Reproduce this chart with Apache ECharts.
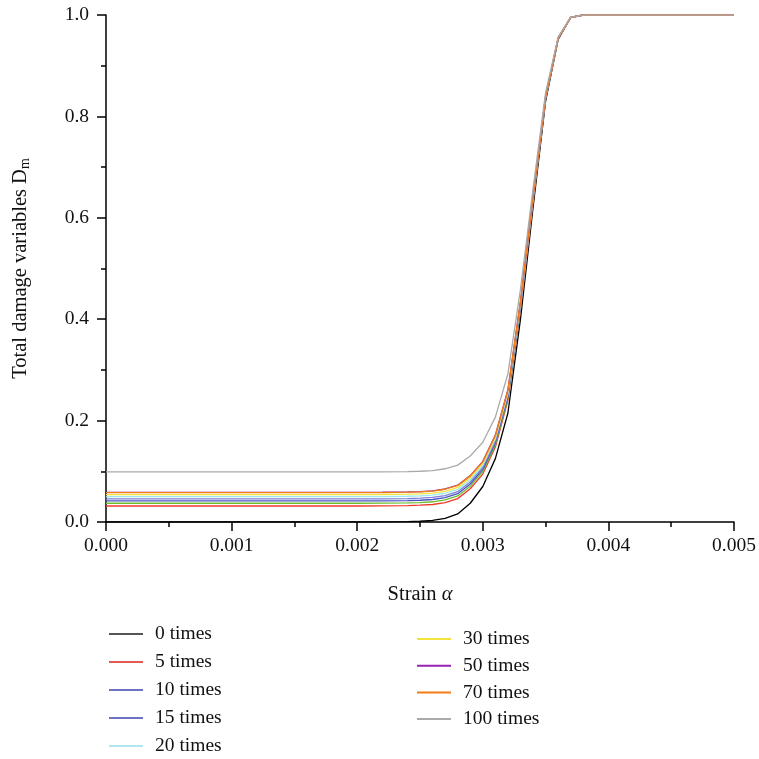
<!DOCTYPE html>
<html>
<head>
<meta charset="utf-8">
<script src="https://cdn.jsdelivr.net/npm/echarts@6/dist/echarts.min.js"></script>
<style>html,body{margin:0;padding:0;background:#fff}#c{width:759px;height:759px}</style>
</head>
<body>
<div id="c"></div>
<script>
// Strain values (x)
const strain = [0, 0.0005, 0.001, 0.0015, 0.002, 0.0022, 0.0024, 0.0025, 0.0026, 0.0027, 0.0028, 0.0029, 0.0030, 0.0031, 0.0032, 0.0033, 0.0034, 0.0035, 0.0036, 0.0037, 0.0038, 0.0040, 0.0045, 0.0050];
// Total damage variable Dm for each freeze-thaw count
const d0   = [0, 0, 0, 0, 0, 0.0002, 0.0008, 0.0015, 0.003, 0.007, 0.016, 0.037, 0.070, 0.125, 0.215, 0.40, 0.62, 0.83, 0.952, 0.995, 1, 1, 1, 1];
const d5   = [0.0316, 0.0316, 0.0316, 0.0316, 0.0316, 0.0318, 0.0324, 0.0331, 0.0345, 0.0384, 0.0461, 0.0655, 0.0945, 0.1478, 0.2398, 0.4190, 0.6320, 0.8354, 0.9535, 0.9952, 1, 1, 1, 1];
const dUn  = [0.037, 0.037, 0.037, 0.037, 0.037, 0.0372, 0.0378, 0.0384, 0.0399, 0.0437, 0.0514, 0.0707, 0.0996, 0.1526, 0.2440, 0.4222, 0.6341, 0.8363, 0.9538, 0.9952, 1, 1, 1, 1];
const d10  = [0.0415, 0.0415, 0.0415, 0.0415, 0.0415, 0.0417, 0.0423, 0.0429, 0.0444, 0.0482, 0.0559, 0.0750, 0.1038, 0.1565, 0.2476, 0.4249, 0.6358, 0.8371, 0.9540, 0.9952, 1, 1, 1, 1];
const d15  = [0.0455, 0.0455, 0.0455, 0.0455, 0.0455, 0.0457, 0.0463, 0.0469, 0.0484, 0.0522, 0.0598, 0.0789, 0.1075, 0.1600, 0.2507, 0.4273, 0.6373, 0.8377, 0.9542, 0.9952, 1, 1, 1, 1];
const d20  = [0.050, 0.050, 0.050, 0.050, 0.050, 0.0502, 0.0508, 0.0514, 0.0529, 0.0567, 0.0643, 0.0833, 0.1118, 0.1640, 0.2543, 0.4300, 0.6390, 0.8385, 0.9544, 0.9953, 1, 1, 1, 1];
const d30  = [0.054, 0.054, 0.054, 0.054, 0.054, 0.0542, 0.0548, 0.0554, 0.0568, 0.0606, 0.0682, 0.0871, 0.1155, 0.1675, 0.2574, 0.4324, 0.6405, 0.8392, 0.9546, 0.9953, 1, 1, 1, 1];
const d50  = [0.0585, 0.0585, 0.0585, 0.0585, 0.0585, 0.0587, 0.0593, 0.0599, 0.0613, 0.0651, 0.0726, 0.0915, 0.1197, 0.1715, 0.2609, 0.4351, 0.6422, 0.8399, 0.9548, 0.9953, 1, 1, 1, 1];
const d70  = [0.058, 0.058, 0.058, 0.058, 0.058, 0.0582, 0.0588, 0.0594, 0.0608, 0.0646, 0.0721, 0.0910, 0.1192, 0.1710, 0.2605, 0.4348, 0.6420, 0.8399, 0.9548, 0.9953, 1, 1, 1, 1];
const d100 = [0.0987, 0.0987, 0.0987, 0.0987, 0.0987, 0.0989, 0.0994, 0.1001, 0.1014, 0.1050, 0.1122, 0.1303, 0.1573, 0.2069, 0.2925, 0.4592, 0.6575, 0.8468, 0.9567, 0.9955, 1, 1, 1, 1];

const names1 = ['0 times', '5 times', '10 times', '15 times', '20 times'];
const names2 = ['30 times', '50 times', '70 times', '100 times'];
const xTicks = { min: 0, max: 0.005, interval: 0.001 };
const yTicks = { min: 0, max: 1.0, interval: 0.2 };

const seriesDefs = [
  { name: '0 times', data: d0, color: '#000000' },
  { name: '5 times', data: d5, color: '#ee3a2c' },
  { name: 'Unlabeled', data: dUn, color: '#6cbd2c' },
  { name: '10 times', data: d10, color: '#4a55c4' },
  { name: '15 times', data: d15, color: '#7b80d6' },
  { name: '20 times', data: d20, color: '#9ee6ee' },
  { name: '30 times', data: d30, color: '#f2e43a' },
  { name: '50 times', data: d50, color: '#9a22b4' },
  { name: '70 times', data: d70, color: '#f37c14' },
  { name: '100 times', data: d100, color: '#aaaaaa' }
];
const legendColors = {
  '0 times': '#555555', '5 times': '#e35a55', '10 times': '#6f72c0', '15 times': '#6f72c0',
  '20 times': '#aee8ee', '30 times': '#f2e43a', '50 times': '#9a22b4', '70 times': '#f37c14', '100 times': '#aaaaaa'
};

const FONT = 'Liberation Serif';
const chart = echarts.init(document.getElementById('c'), null, { renderer: 'canvas' });

const legendBase = {
  orient: 'vertical',
  icon: 'rect',
  itemWidth: 34,
  itemHeight: 2,
  padding: 0,
  height: 150,
  textStyle: { fontFamily: FONT, fontSize: 19.5, color: '#111', padding: [0, 0, 0, 7], lineHeight: 18 },
  inactiveColor: '#ccc'
};
const legendData = arr => arr.map(n => ({ name: n, itemStyle: { color: legendColors[n] } }));

chart.setOption({
  animation: false,
  backgroundColor: '#ffffff',
  grid: { left: 106, right: 25, top: 15, bottom: 237, containLabel: false, outerBoundsMode: 'none' },
  xAxis: {
    type: 'value',
    min: xTicks.min, max: xTicks.max, interval: xTicks.interval,
    name: '{t|Strain }{a|α}',
    nameLocation: 'middle',
    nameGap: 62,
    nameTextStyle: {
      rich: {
        t: { fontFamily: FONT, fontSize: 20.5, color: '#111' },
        a: { fontFamily: FONT, fontSize: 20.5, fontStyle: 'italic', color: '#111' }
      }
    },
    axisLine: { show: true, onZero: false, lineStyle: { color: '#000', width: 1.5 } },
    axisTick: { show: true, inside: false, length: 9, lineStyle: { color: '#000', width: 1.5 } },
    minorTick: { show: true, splitNumber: 2, length: 5, lineStyle: { color: '#000', width: 1.5 } },
    splitLine: { show: false },
    axisLabel: { margin: 14, fontFamily: FONT, fontSize: 19.5, color: '#111', formatter: v => v.toFixed(3) }
  },
  yAxis: {
    type: 'value',
    min: yTicks.min, max: yTicks.max, interval: yTicks.interval,
    name: '{t|Total damage variables D}{s|m}',
    nameLocation: 'middle',
    nameRotate: 90,
    nameGap: 74,
    nameTextStyle: {
      rich: {
        t: { fontFamily: FONT, fontSize: 20.5, color: '#111' },
        s: { fontFamily: FONT, fontSize: 14, color: '#111', verticalAlign: 'bottom', padding: [9, 0, 0, 0] }
      }
    },
    axisLine: { show: true, lineStyle: { color: '#000', width: 1.5 } },
    axisTick: { show: true, inside: false, length: 9, lineStyle: { color: '#000', width: 1.5 } },
    minorTick: { show: true, splitNumber: 2, length: 5, lineStyle: { color: '#000', width: 1.5 } },
    splitLine: { show: false },
    axisLabel: { margin: 17, fontFamily: FONT, fontSize: 19.5, color: '#111', formatter: v => v.toFixed(1) }
  },
  legend: [
    Object.assign({}, legendBase, { left: 109, top: 624, itemGap: 8, data: legendData(names1) }),
    Object.assign({}, legendBase, { left: 417, top: 629, itemGap: 6.7, data: legendData(names2) })
  ],
  series: seriesDefs.map(s => ({
    name: s.name,
    type: 'line',
    symbol: 'none',
    color: s.color,
    lineStyle: { color: s.color, width: 1.3 },
    data: strain.map((x, i) => [x, s.data[i]])
  }))
});
</script>
</body>
</html>
